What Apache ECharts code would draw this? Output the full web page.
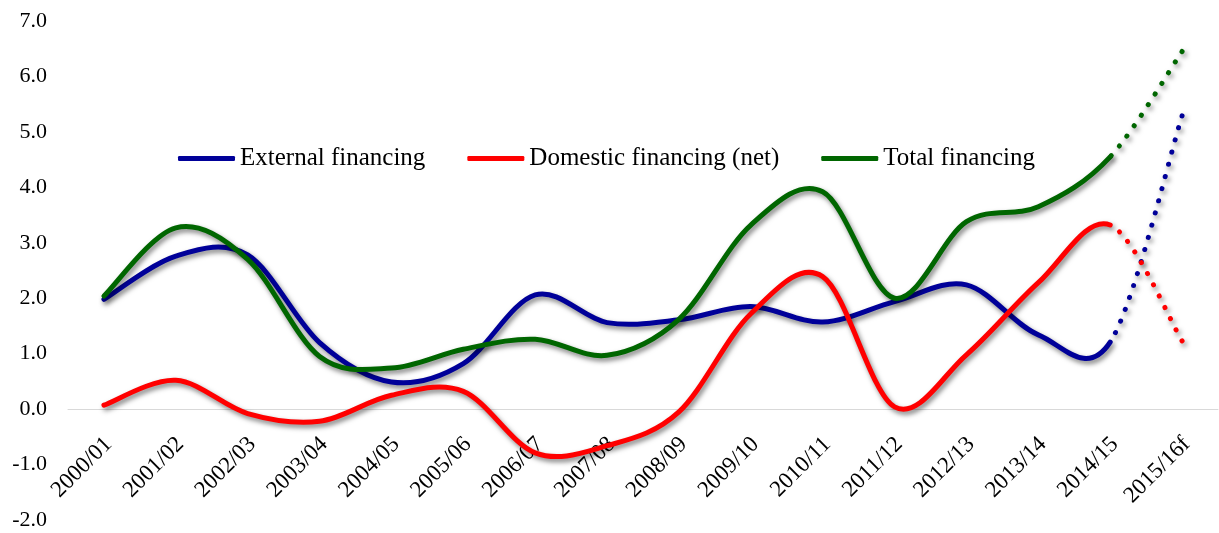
<!DOCTYPE html>
<html>
<head>
<meta charset="utf-8">
<script src="https://cdn.jsdelivr.net/npm/echarts@6/dist/echarts.min.js"></script>
<style>
  html, body { margin: 0; padding: 0; background: #fff; }
  #main { width: 1219px; height: 533px; }
</style>
</head>
<body>
<div id="main"></div>
<script>
// categories (fiscal years), last one is forecast
const years = ['2000/01', '2001/02', '2002/03', '2003/04', '2004/05', '2005/06', '2006/07', '2007/08',
  '2008/09', '2009/10', '2010/11', '2011/12', '2012/13', '2013/14', '2014/15', '2015/16f']

// values 2000/01 .. 2014/15, last entry = 2015/16f forecast (drawn dotted)
const externalFin = [1.98, 2.76, 2.78, 1.2, 0.49, 0.82, 2.06, 1.56, 1.61, 1.85, 1.57, 1.94, 2.24, 1.34, 1.21, 5.29]
const domesticFin = [0.07, 0.52, -0.08, -0.22, 0.25, 0.32, -0.79, -0.66, -0.05, 1.72, 2.39, 0.04, 0.98, 2.28, 3.32, 1.23]
const totalFin = [2.04, 3.27, 2.7, 0.95, 0.74, 1.08, 1.26, 0.97, 1.62, 3.32, 3.92, 2.0, 3.38, 3.65, 4.55, 6.45]

const yMin = -2
const yMax = 7

const serifFont = '"Liberation Serif", "Times New Roman", serif'
const gridTop = 21
const gridBottom = 13
const gridH = 533 - gridTop - gridBottom

// excel style smoothing (catmull-rom -> bezier) for segment i -> i+1
function bez(pts, i) {
  let p0 = pts[Math.max(i - 1, 0)]
  let p1 = pts[i]
  let p2 = pts[i + 1]
  let p3 = pts[Math.min(i + 2, pts.length - 1)]
  return [
    p1,
    [p1[0] + (p2[0] - p0[0]) / 6, p1[1] + (p2[1] - p0[1]) / 6],
    [p2[0] - (p3[0] - p1[0]) / 6, p2[1] - (p3[1] - p1[1]) / 6],
    p2
  ]
}

function curvePath(pts, from, to) {
  let d = 'M' + pts[from].join(' ')
  for (let i = from; i < to; i++) {
    let b = bez(pts, i)
    d += ' C' + b[1].join(' ') + ' ' + b[2].join(' ') + ' ' + b[3].join(' ')
  }
  return d
}

// same curve drawn backwards, so the dot pattern starts at the forecast point
function reversePath(pts, i) {
  let b = bez(pts, i)
  return 'M' + b[3].join(' ') + ' C' + b[2].join(' ') + ' ' + b[1].join(' ') + ' ' + b[0].join(' ')
}

function lineSeries(name, values, color) {
  return {
    name: name,
    type: 'custom',
    coordinateSystem: 'cartesian2d',
    itemStyle: { color: color },
    data: [[0, values[0]]],
    clip: false,
    renderItem: function (params, api) {
      let pts = values.map((v, i) => api.coord([i, v]))
      let n = pts.length
      let base = {
        fill: null,
        stroke: color,
        lineWidth: 5,
        lineCap: 'round',
        lineJoin: 'round',
        shadowColor: 'rgba(0,0,0,0.5)',
        shadowBlur: 5,
        shadowOffsetX: 2,
        shadowOffsetY: 3
      }
      return {
        type: 'group',
        children: [
          { type: 'path', shape: { pathData: curvePath(pts, 0, n - 2) }, style: base },
          {
            type: 'path',
            shape: { pathData: reversePath(pts, n - 2) },
            style: Object.assign({}, base, { lineDash: [0.1, 12.5] })
          }
        ]
      }
    }
  }
}

let myChart = echarts.init(document.getElementById('main'))
let option = {
  backgroundColor: '#fff',
  animation: false,
  grid: {
    left: 68,
    right: 1,
    top: gridTop,
    bottom: gridBottom,
    outerBoundsMode: 'none',
    containLabel: false
  },
  legend: {
    data: ['External financing', 'Domestic financing (net)', 'Total financing'],
    left: 178,
    top: 146,
    padding: 0,
    icon: 'roundRect',
    itemWidth: 57,
    itemHeight: 5,
    itemGap: 42,
    textStyle: {
      fontFamily: serifFont,
      fontSize: 25,
      color: '#000'
    }
  },
  xAxis: {
    type: 'category',
    data: years,
    boundaryGap: true,
    // axis sits on the zero line
    offset: -gridH * (0 - yMin) / (yMax - yMin),
    axisLine: { onZero: false, lineStyle: { color: '#d9d9d9', width: 1 } },
    axisTick: { show: false },
    axisLabel: {
      interval: 0,
      rotate: 45,
      margin: 20,
      verticalAlign: 'top',
      padding: [0, 5, 0, 0],
      fontFamily: serifFont,
      fontSize: 23,
      color: '#000'
    }
  },
  yAxis: {
    type: 'value',
    min: yMin,
    max: yMax,
    interval: 1,
    axisLine: { show: false },
    axisTick: { show: false },
    splitLine: { show: false },
    axisLabel: {
      margin: 21,
      fontFamily: serifFont,
      fontSize: 22,
      color: '#000',
      formatter: v => v.toFixed(1)
    }
  },
  series: [
    lineSeries('External financing', externalFin, '#000099'),
    lineSeries('Domestic financing (net)', domesticFin, '#ff0000'),
    lineSeries('Total financing', totalFin, '#006600')
  ]
}
myChart.setOption(option)
</script>
</body>
</html>
